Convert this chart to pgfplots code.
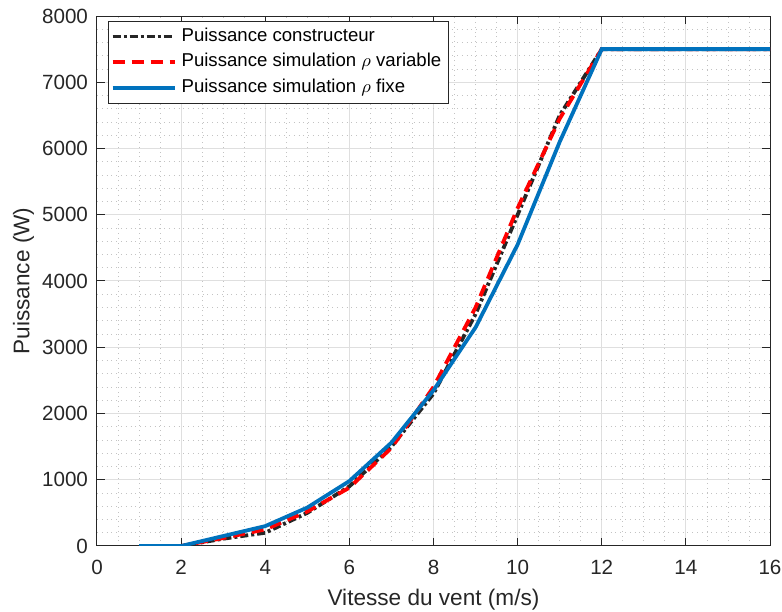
\documentclass[border=0pt]{standalone}
\usepackage{fontspec}
\setmainfont{Liberation Sans}
\usepackage{pgfplots}
\pgfplotsset{compat=1.18}
\definecolor{mblue}{RGB}{0,114,189}
\definecolor{mblack}{RGB}{38,38,38}
\definecolor{gridmaj}{RGB}{223,223,223}
\definecolor{gridmin}{RGB}{195,195,195}
\begin{document}
\begin{tikzpicture}
\begin{axis}[
  name=ax,
  scale only axis,
  width=336.5pt, height=265pt,
  xmin=0, xmax=16, ymin=0, ymax=8000,
  xtick={0,2,...,16}, ytick={0,1000,...,8000},
  minor x tick num=3, minor y tick num=4,
  grid=both,
  major grid style={gridmaj, line width=0.5pt},
  minor grid style={gridmin, dotted, line width=0.4pt},
  axis line style={mblack, line width=0.5pt},
  tick style={mblack, line width=0.5pt},
  major tick length=4pt, minor tick length=0pt,
  tick align=inside,
  /pgf/number format/assume math mode=true,
  /pgf/number format/1000 sep={},
  tick label style={font=\fontsize{10.3}{12}\selectfont, text=mblack},
  xticklabel style={anchor=base, yshift=-14.5pt},
  yticklabel style={xshift=-1pt},
  xlabel={Vitesse du vent (m/s)},
  ylabel={Puissance (W)},
  label style={font=\fontsize{11.3}{13}\selectfont, text=mblack},
  xlabel style={at={(axis description cs:0.5,-0.1132)}, anchor=base},
  ylabel style={at={(axis description cs:-0.1003,0.5)}, anchor=base},
  legend style={at={(0.0168,0.9911)}, anchor=north west, draw=mblack, line width=0.5pt,
    font=\fontsize{9.3}{11}\selectfont, row sep=0.1pt, inner xsep=1pt, inner ysep=1.3pt,
    nodes={text height=6.9pt, text depth=2.2pt, inner ysep=1.8pt, inner xsep=2.5pt}},
  legend cell align=left,
  legend image code/.code={\draw[#1] (0pt,0pt) -- (31pt,0pt);},
]
\addplot[mblack, line width=1.9pt, dash pattern=on 4pt off 1.5pt on 1.5pt off 1.5pt] coordinates {
(1,0) (2,0) (3,110) (4,200) (5,500) (6,900) (7,1500) (8,2300) (9,3500) (10,5000) (11,6500) (12,7500) (13,7500) (14,7500) (15,7500) (16,7500)};
\addlegendentry{Puissance constructeur}
\addplot[red, line width=1.9pt, dash pattern=on 6pt off 3.5pt] coordinates {
(1,0) (2,0) (3,120) (4,250) (5,520) (6,880) (7,1480) (8,2400) (9,3600) (10,5100) (11,6450) (12,7500) (13,7500) (14,7500) (15,7500) (16,7500)};
\addlegendentry{Puissance simulation $\rho$ variable}
\addplot[mblue, line width=1.9pt] coordinates {
(1,0) (2,0) (3,150) (4,300) (5,580) (6,980) (7,1560) (8,2350) (9,3300) (10,4550) (11,6100) (12,7500) (13,7500) (14,7500) (15,7500) (16,7500)};
\addlegendentry{Puissance simulation $\rho$ fixe}
\end{axis}
\pgfresetboundingbox
\useasboundingbox ([shift={(-48.5pt,-33pt)}]ax.south west) rectangle ([shift={(6pt,8pt)}]ax.north east);
\end{tikzpicture}
\end{document}
